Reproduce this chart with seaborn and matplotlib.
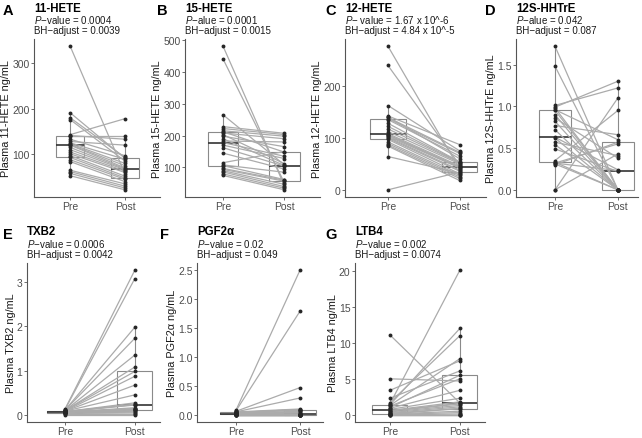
import numpy as np
import pandas as pd
import matplotlib
matplotlib.use("Agg")
import matplotlib.pyplot as plt
import seaborn as sns

# ---------------- data ----------------
time_labels = ["Pre", "Post"]

pre_A = [337, 191, 180, 176, 143, 141, 141, 133, 128, 125, 123, 121, 120, 115, 110, 105, 101, 97, 93, 88, 84, 65, 62, 58, 53]
post_A = [57, 91, 93, 85, 178, 141, 133, 97, 120, 89, 80, 75, 70, 68, 66, 63, 60, 52, 48, 45, 40, 35, 30, 26, 22]

pre_B = [480, 440, 265, 228, 222, 215, 212, 208, 203, 198, 190, 183, 178, 170, 162, 145, 115, 108, 106, 97, 94, 90, 86, 80, 75]
post_B = [43, 52, 108, 207, 203, 198, 148, 190, 112, 165, 106, 180, 135, 128, 104, 95, 150, 85, 62, 60, 57, 47, 40, 35, 30]

pre_C = [276, 239, 162, 142, 140, 139, 137, 135, 128, 122, 117, 112, 108, 106, 105, 103, 101, 99, 97, 92, 89, 86, 84, 64, 0]
post_C = [40, 48, 75, 87, 60, 72, 70, 65, 54, 53, 52, 50, 46, 44, 43, 42, 38, 36, 31, 28, 25, 22, 18, 32, 34]

pre_D = [1.72, 1.48, 1.01, 0.99, 0.98, 0.96, 0.95, 0.90, 0.86, 0.82, 0.77, 0.72, 0.63, 0.62, 0.57, 0.54, 0.49, 0.35, 0.33, 0.32, 0.32, 0.31, 0.30, 0.0, 0.0]
post_D = [0.0, 0.0, 1.22, 1.30, 0.0, 0.60, 0.0, 0.0, 0.38, 0.0, 0.66, 0.0, 0.24, 0.0, 0.41, 0.0, 0.22, 0.95, 0.0, 0.55, 0.23, 0.0, 0.57, 1.10, 0.43]

pre_E = [0.12, 0.11, 0.10, 0.10, 0.09, 0.09, 0.09, 0.08, 0.08, 0.08, 0.07, 0.07, 0.07, 0.07, 0.06, 0.06, 0.06, 0.06, 0.05, 0.05, 0.05, 0.04, 0.03, 0.02, 0.0]
post_E = [3.27, 3.08, 1.98, 1.73, 1.35, 1.08, 0.98, 0.87, 0.67, 0.45, 0.27, 0.24, 0.23, 0.22, 0.16, 0.14, 0.13, 0.12, 0.11, 0.10, 0.08, 0.06, 0.04, 0.02, 0.0]

pre_F = [0.08, 0.07, 0.06, 0.05, 0.05, 0.04, 0.04, 0.03, 0.03, 0.03, 0.02, 0.02, 0.02, 0.02, 0.01, 0.01, 0.01, 0.01, 0.01, 0.0, 0.0, 0.0, 0.0, 0.0, 0.0]
post_F = [2.50, 1.79, 0.47, 0.29, 0.10, 0.09, 0.09, 0.08, 0.06, 0.04, 0.03, 0.02, 0.01, 0.01, 0.0, 0.0, 0.0, 0.0, 0.0, 0.0, 0.0, 0.0, 0.0, 0.0, 0.0]

pre_G = [11.1, 5.0, 3.4, 2.3, 1.7, 1.5, 1.4, 1.3, 1.2, 1.0, 0.9, 0.75, 0.6, 0.55, 0.5, 0.4, 0.3, 0.2, 0.12, 0.1, 0.05, 0.0, 0.0, 0.0, 0.0]
post_G = [1.65, 4.7, 7.5, 6.1, 11.0, 20.1, 12.0, 7.8, 5.0, 5.5, 3.4, 2.3, 1.8, 1.6, 1.5, 1.3, 1.1, 0.9, 0.85, 0.5, 0.3, 0.1, 0.0, 0.0, 0.0]

letters = ["A", "B", "C", "D", "E", "F", "G"]
titles = ["11-HETE", "15-HETE", "12-HETE", "12S-HHTrE", "TXB2", "PGF2\u03b1", "LTB4"]
ylabels = ["Plasma 11-HETE ng/mL", "Plasma 15-HETE ng/mL", "Plasma 12-HETE ng/mL",
           "Plasma 12S-HHTrE ng/mL", "Plasma TXB2 ng/mL", "Plasma PGF2\u03b1 ng/mL",
           "Plasma LTB4 ng/mL"]
pvalue_texts = ["$P$\u2212value = 0.0004", "$P$\u2212alue = 0.0001", "$P$\u2212 value = 1.67 x 10^-6",
                "$P$\u2212alue = 0.042", "$P$\u2212value = 0.0006", "$P$\u2212value = 0.02",
                "$P$\u2212value = 0.002"]
bh_texts = ["BH\u2212adjust = 0.0039", "BH\u2212adjust = 0.0015", "BH\u2212adjust = 4.84 x 10^-5",
            "BH\u2212adjust = 0.087", "BH\u2212adjust = 0.0042", "BH\u2212adjust = 0.049",
            "BH\u2212adjust = 0.0074"]
yticks_list = [[100, 200, 300], [100, 200, 300, 400, 500], [0, 100, 200],
               [0.0, 0.5, 1.0, 1.5], [0, 1, 2, 3], [0.0, 0.5, 1.0, 1.5, 2.0, 2.5],
               [0, 5, 10, 15, 20]]
ytick_fmt = ["{:.0f}", "{:.0f}", "{:.0f}", "{:.1f}", "{:.0f}", "{:.1f}", "{:.0f}"]

series = [(pre_A, post_A), (pre_B, post_B), (pre_C, post_C), (pre_D, post_D),
          (pre_E, post_E), (pre_F, post_F), (pre_G, post_G)]

# ---------------- layout (pixels) ----------------
W, H = 642, 439
# left, right, top, bottom, xlim
boxes = [
    (34, 160, 40, 198, (-0.66, 1.64)),
    (185, 320, 40, 198, (-0.62, 1.58)),
    (345, 486, 40, 198, (-0.60, 1.37)),
    (516, 638, 40, 198, (-0.62, 1.32)),
    (27, 160, 264, 423, (-0.54, 1.36)),
    (197, 323, 264, 423, (-0.61, 1.36)),
    (355, 485, 264, 423, (-0.50, 1.36)),
]
letter_x = [3, 157, 325, 485, 3, 160, 325]

sns.set_theme(style="white")
plt.rcParams["font.family"] = ["Liberation Sans", "DejaVu Sans"]
plt.rcParams["mathtext.fontset"] = "custom"
plt.rcParams["mathtext.it"] = "Liberation Sans:italic"
plt.rcParams["mathtext.rm"] = "Liberation Sans"

fig = plt.figure(figsize=(W / 100, H / 100), dpi=100)
fig.patch.set_facecolor("white")

axis_col = "#555555"
for i, (pre, post) in enumerate(series):
    l, r, t, b, xl = boxes[i]
    ax = fig.add_axes([l / W, 1 - b / H, (r - l) / W, (b - t) / H])
    n = len(pre)
    df = pd.DataFrame({
        "id": list(range(n)) * 2,
        "xpos": [0] * n + [1] * n,
        "value": list(pre) + list(post),
    })
    sns.boxplot(data=df, x="xpos", y="value", ax=ax, width=0.5, color="white",
                linecolor="#8a8a8a", linewidth=0.8, showfliers=False, showcaps=False,
                whis=1.5, medianprops=dict(color="#333333", linewidth=1.2))
    sns.lineplot(data=df, x="xpos", y="value", units="id", estimator=None, ax=ax,
                 color="#ababab", linewidth=0.9, legend=False, zorder=3)
    sns.stripplot(data=df, x="xpos", y="value", jitter=False, color="#262626",
                  size=2.8, ax=ax, zorder=4, linewidth=0)
    allv = list(pre) + list(post)
    lo, hi = min(allv), max(allv)
    pad = 0.05 * (hi - lo)
    ax.set_ylim(lo - pad, hi + pad)
    ax.set_xlim(*xl)
    ax.set_xticks([0, 1])
    ax.set_xticklabels(time_labels)
    yt = yticks_list[i]
    ax.set_yticks(yt)
    ax.set_yticklabels([ytick_fmt[i].format(v) for v in yt])
    ax.set_xlabel("")
    ax.set_ylabel(ylabels[i], fontsize=7.8, color="#1a1a1a", labelpad=0.5)
    for s in ["top", "right"]:
        ax.spines[s].set_visible(False)
    for s in ["left", "bottom"]:
        ax.spines[s].set_color(axis_col)
        ax.spines[s].set_linewidth(0.8)
    ax.tick_params(axis="both", length=2.0, width=0.6, color=axis_col,
                   labelsize=7.5, labelcolor="#4d4d4d", pad=1.2, left=True, bottom=True)
    ax.set_facecolor("white")
    ax.grid(False)

    # texts
    ytop = t
    fig.text(letter_x[i] / W, 1 - (ytop - 25) / H, letters[i], fontsize=10.5,
             fontweight="bold", ha="left", va="baseline", color="black")
    fig.text(l / W, 1 - (ytop - 28.5) / H, titles[i], fontsize=8.3,
             fontweight="bold", ha="left", va="baseline", color="black")
    fig.text(l / W, 1 - (ytop - 15.5) / H, pvalue_texts[i], fontsize=7,
             ha="left", va="baseline", color="#1a1a1a")
    fig.text(l / W, 1 - (ytop - 6) / H, bh_texts[i], fontsize=7,
             ha="left", va="baseline", color="#1a1a1a")

fig.savefig("out.png", dpi=100, facecolor="white")
